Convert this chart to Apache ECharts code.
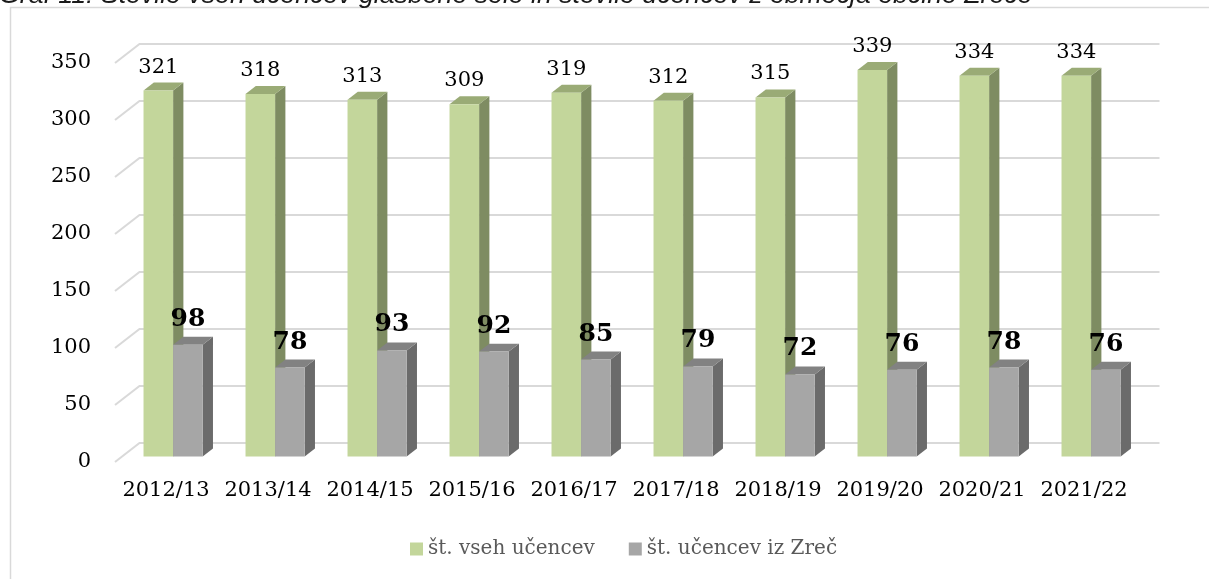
<!DOCTYPE html>
<html>
<head>
<meta charset="utf-8">
<script src="https://cdn.jsdelivr.net/npm/echarts@6/dist/echarts.min.js"></script>
<style>
  html, body { margin: 0; padding: 0; background: #ffffff; }
  #chart { width: 1209px; height: 579px; }
</style>
</head>
<body>
<div id="chart"></div>
<script>
// School years and pupil counts
const categories = ['2012/13', '2013/14', '2014/15', '2015/16', '2016/17', '2017/18', '2018/19', '2019/20', '2020/21', '2021/22'];
const allPupils = [321, 318, 313, 309, 319, 312, 315, 339, 334, 334];
const zrecePupils = [98, 78, 93, 92, 85, 79, 72, 76, 78, 76];
const yTicks = [0, 50, 100, 150, 200, 250, 300, 350];

const seriesNames = ['št. vseh učencev', 'št. učencev iz Zreč'];
const captionText = 'Graf 11: Število vseh učencev glasbene šole in število učencev z območja občine Zreče';

// Perspective depth vector (from front plane to back wall)
const DEPTH = [24.5, -19];
const FRONT = 0.29, BACK = 0.71;   // bar depth range as fraction of DEPTH
const BAR_FRAC = 0.29;             // bar width as fraction of category band

const SERIF = '"DejaVu Serif", "Liberation Serif", serif';

const palette = {
  green: { front: '#c3d69b', side: '#7e8c62', top: '#9aab76' },
  gray:  { front: '#a6a6a6', side: '#6b6b6b', top: '#828282' }
};

function shiftPt(p, f) {
  return [p[0] + DEPTH[0] * f, p[1] + DEPTH[1] * f];
}

// 3D-looking column: front face, right side face, top face and a value label
function barRenderer(side, colors, labelStyle) {
  return function (params, api) {
    const idx = api.value(0);
    const val = api.value(1);
    const base = api.coord([idx, 0]);
    const top = api.coord([idx, val]);
    const w = api.size([1, 0])[0] * BAR_FRAC;
    const xl = side < 0 ? base[0] - w : base[0];
    const xr = xl + w;
    const yb = base[1], yt = top[1];

    const fbl = shiftPt([xl, yb], FRONT), fbr = shiftPt([xr, yb], FRONT);
    const ftl = shiftPt([xl, yt], FRONT), ftr = shiftPt([xr, yt], FRONT);
    const bbr = shiftPt([xr, yb], BACK), btr = shiftPt([xr, yt], BACK), btl = shiftPt([xl, yt], BACK);

    return {
      type: 'group',
      children: [
        { type: 'polygon', shape: { points: [fbr, bbr, btr, ftr] }, style: { fill: colors.side } },
        { type: 'polygon', shape: { points: [ftl, ftr, btr, btl] }, style: { fill: colors.top } },
        { type: 'polygon', shape: { points: [fbl, fbr, ftr, ftl] }, style: { fill: colors.front } },
        {
          type: 'text',
          z2: 10,
          style: Object.assign({
            text: String(val),
            x: (ftl[0] + ftr[0]) / 2,
            y: ftl[1] - labelStyle.gap,
            align: 'center',
            verticalAlign: 'bottom',
            fill: '#000000'
          }, labelStyle.font)
        }
      ]
    };
  };
}

// Side-wall diagonals and back-wall gridlines at each tick value
function wallRenderer(params, api) {
  const y = api.coord([0, api.value(1)])[1];
  const x0 = params.coordSys.x;
  const x1 = params.coordSys.x + params.coordSys.width;
  return {
    type: 'polyline',
    shape: { points: [[x0, y], [x0 + DEPTH[0], y + DEPTH[1]], [x1 + DEPTH[0], y + DEPTH[1]]] },
    style: { stroke: '#d9d9d9', lineWidth: 2, fill: null }
  };
}

// Fit the caption to its line width
const measureCtx = document.createElement('canvas').getContext('2d');
measureCtx.font = 'italic 24px "Liberation Sans"';
const capSize = 24 * 1034 / measureCtx.measureText(captionText).width;

const chart = echarts.init(document.getElementById('chart'), null, { renderer: 'canvas' });

chart.setOption({
  animation: false,
  backgroundColor: '#ffffff',
  grid: { left: 115, right: 74, top: 63, bottom: 117, containLabel: false },
  legend: {
    data: seriesNames,
    left: 410,
    top: 537,
    padding: 0,
    itemWidth: 13,
    itemHeight: 13,
    itemGap: 34,
    icon: 'rect',
    textStyle: { fontFamily: SERIF, fontSize: 20, color: '#595959', lineHeight: 24 }
  },
  xAxis: {
    type: 'category',
    data: categories,
    axisLine: { show: false },
    axisTick: { show: false },
    axisLabel: { fontFamily: SERIF, fontSize: 21, color: '#000000', margin: 18, interval: 0 }
  },
  yAxis: {
    type: 'value',
    min: 0,
    max: 350,
    interval: 50,
    axisLine: { show: false },
    axisTick: { show: false },
    splitLine: { show: false },
    axisLabel: { fontFamily: SERIF, fontSize: 21, color: '#000000', margin: 24 }
  },
  graphic: [
    {
      type: 'rect',
      silent: true,
      shape: { x: 10.5, y: 7.5, width: 1400, height: 800 },
      style: { fill: null, stroke: '#d9d9d9', lineWidth: 1.5 }
    },
    {
      type: 'text',
      silent: true,
      style: {
        text: captionText,
        x: -1,
        y: 3 + capSize * 0.22,
        verticalAlign: 'bottom',
        font: 'italic ' + capSize.toFixed(2) + 'px "Liberation Sans"',
        fill: '#1a1a1a'
      }
    }
  ],
  series: [
    {
      type: 'custom',
      name: 'walls',
      silent: true,
      z: 1,
      renderItem: wallRenderer,
      encode: { x: 0, y: 1 },
      data: yTicks.map(function (v) { return [0, v]; })
    },
    {
      type: 'custom',
      name: seriesNames[0],
      z: 2,
      itemStyle: { color: palette.green.front },
      renderItem: barRenderer(-1, palette.green, { gap: 13, font: { fontFamily: SERIF, fontSize: 21 } }),
      encode: { x: 0, y: 1 },
      data: allPupils.map(function (v, i) { return [i, v]; })
    },
    {
      type: 'custom',
      name: seriesNames[1],
      z: 3,
      itemStyle: { color: palette.gray.front },
      renderItem: barRenderer(1, palette.gray, { gap: 13, font: { fontFamily: SERIF, fontSize: 25, fontWeight: 'bold' } }),
      encode: { x: 0, y: 1 },
      data: zrecePupils.map(function (v, i) { return [i, v]; })
    }
  ]
});
</script>
</body>
</html>
